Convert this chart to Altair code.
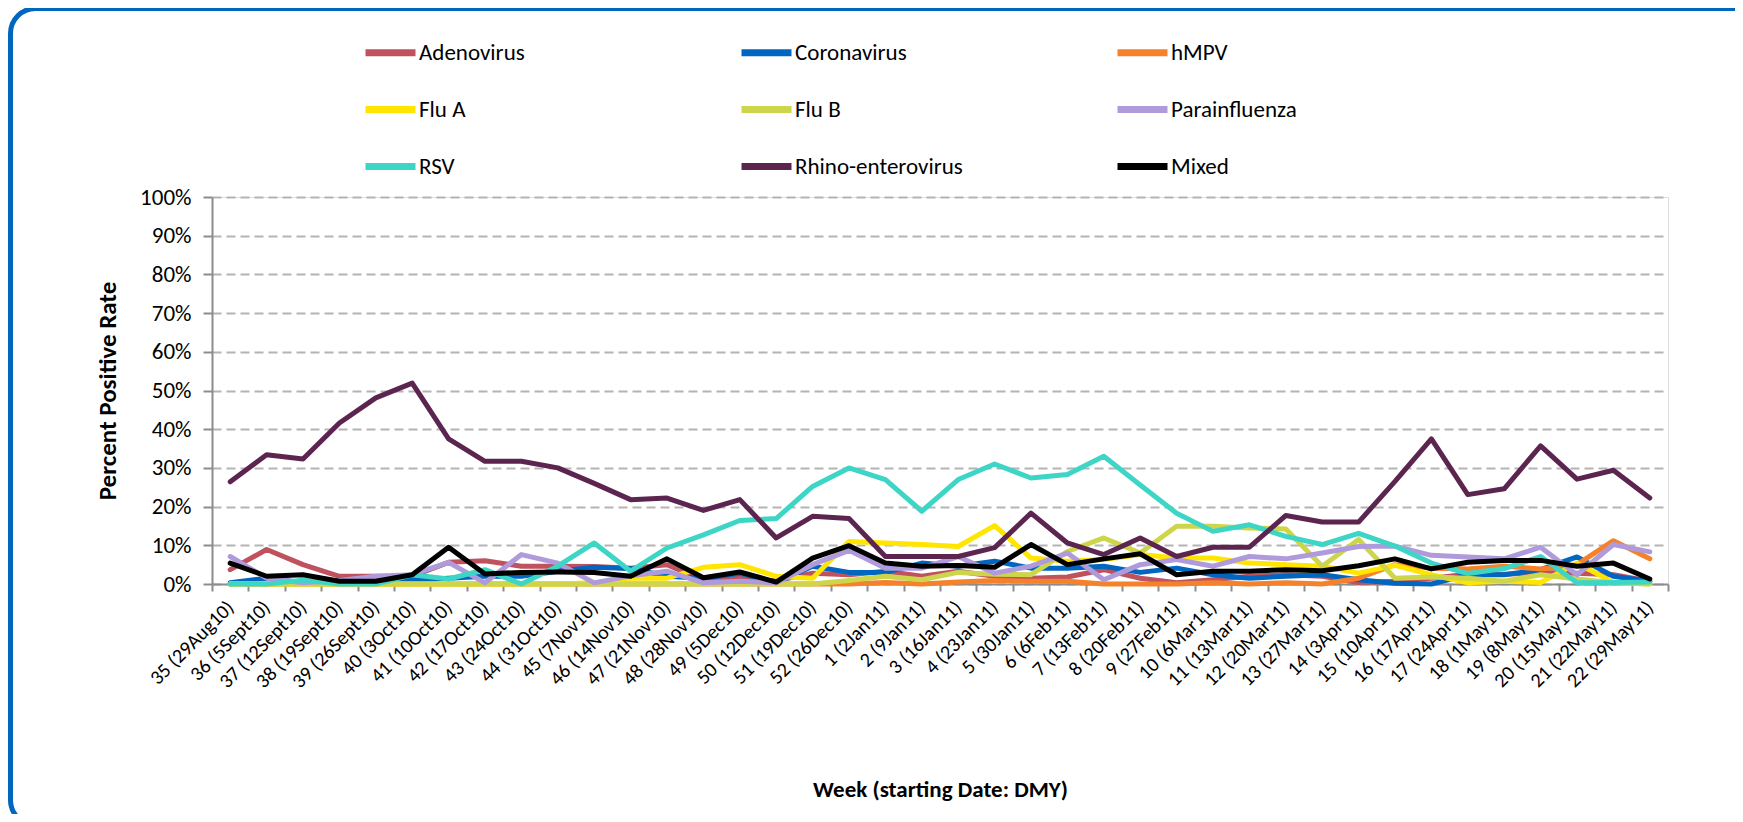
import altair as alt
import pandas as pd

weeks = ["35 (29Aug10)", "36 (5Sept10)", "37 (12Sept10)", "38 (19Sept10)", "39 (26Sept10)",
         "40 (3Oct10)", "41 (10Oct10)", "42 (17Oct10)", "43 (24Oct10)", "44 (31Oct10)",
         "45 (7Nov10)", "46 (14Nov10)", "47 (21Nov10)", "48 (28Nov10)", "49 (5Dec10)",
         "50 (12Dec10)", "51 (19Dec10)", "52 (26Dec10)", "1 (2Jan11)", "2 (9Jan11)",
         "3 (16Jan11)", "4 (23Jan11)", "5 (30Jan11)", "6 (6Feb11)", "7 (13Feb11)",
         "8 (20Feb11)", "9 (27Feb11)", "10 (6Mar11)", "11 (13Mar11)", "12 (20Mar11)",
         "13 (27Mar11)", "14 (3Apr11)", "15 (10Apr11)", "16 (17Apr11)", "17 (24Apr11)",
         "18 (1May11)", "19 (8May11)", "20 (15May11)", "21 (22May11)", "22 (29May11)"]

adenovirus = [3.7, 8.9, 5.0, 2.0, 2.0, 2.0, 5.6, 6.0, 4.6, 4.6, 4.5, 4.1, 5.0, 1.0, 1.5, 0.8, 2.8, 2.4, 3.3, 2.0,
              3.3, 2.0, 1.5, 1.8, 3.7, 1.5, 0.3, 1.1, 2.0, 2.4, 2.0, 0.4, 0.7, 1.5, 2.5, 2.5, 3.0, 2.8, 2.4, 0.7]
coronavirus = [0.3, 1.5, 0.3, 0.3, 0.5, 1.0, 1.5, 2.0, 2.0, 3.3, 4.3, 4.0, 2.0, 1.5, 2.8, 0.3, 4.6, 3.0, 3.0, 5.4,
               4.6, 5.9, 4.1, 4.1, 4.6, 3.0, 4.1, 2.4, 1.5, 2.0, 2.4, 1.1, 0.2, 0.0, 2.4, 2.4, 3.7, 7.0, 2.0, 0.7]
hmpv = [0, 0, 0, 0, 0, 0, 0, 0, 0, 0, 0, 0, 0, 0, 0, 0, 0, 0.0, 0.4, 0.0,
        0.5, 0.9, 0.7, 0.7, 0.0, 0.0, 0.0, 0.3, 0.0, 0.3, 0.0, 1.5, 5.0, 4.1, 3.9, 4.6, 3.9, 5.0, 11.2, 6.5]
flu_a = [0, 0, 0, 0, 0, 0, 0, 0, 0, 0.0, 0.3, 1.5, 1.5, 4.3, 5.0, 2.0, 1.5, 11.0, 10.6, 10.2,
         9.7, 15.1, 6.7, 5.9, 6.3, 7.6, 6.7, 6.7, 5.4, 5.0, 4.6, 2.8, 4.8, 2.4, 0.3, 0.7, 0.4, 5.4, 0.4, 0.0]
flu_b = [0, 0, 0, 0, 0, 0, 0, 0, 0, 0, 0, 0, 0, 0, 0, 0, 0, 0.9, 2.0, 1.1,
         3.0, 2.5, 2.4, 8.4, 11.9, 8.0, 14.9, 14.9, 14.5, 14.2, 4.6, 11.5, 1.5, 1.8, 1.5, 0.7, 2.4, 1.3, 0.3, 0.0]
parainfluenza = [7.1, 1.5, 0.3, 0.9, 2.0, 2.4, 5.6, 0.3, 7.6, 5.4, 0.3, 2.1, 3.3, 0.3, 0.7, 0.3, 5.0, 8.7, 4.1, 4.1,
                 7.1, 2.8, 4.6, 8.0, 1.1, 5.0, 6.3, 4.6, 7.1, 6.5, 8.0, 9.7, 9.8, 7.4, 7.0, 6.5, 9.5, 2.4, 10.2, 8.3]
rsv = [0.0, 0.0, 1.0, 0.0, 0.0, 2.4, 1.3, 3.7, 0.0, 4.6, 10.6, 3.3, 9.3, 12.7, 16.4, 16.9, 25.2, 30.0, 27.0, 18.8,
       27.0, 31.0, 27.4, 28.3, 33.0, 25.6, 18.3, 13.6, 15.3, 12.3, 10.2, 13.1, 9.8, 5.4, 2.7, 4.0, 7.1, 0.3, 0.4, 0.5]
rhino = [26.4, 33.4, 32.3, 41.6, 48.1, 51.9, 37.5, 31.7, 31.7, 30.0, 26.0, 21.8, 22.2, 19.0, 21.8, 11.9, 17.5, 16.9, 7.1, 7.1,
         7.1, 9.4, 18.3, 10.6, 7.6, 11.9, 7.1, 9.5, 9.5, 17.7, 16.0, 16.0, 26.5, 37.5, 23.1, 24.6, 35.7, 27.1, 29.4, 22.2]
mixed = [5.4, 2.0, 2.4, 0.7, 0.7, 2.4, 9.5, 2.6, 3.0, 3.1, 3.0, 2.0, 6.5, 1.6, 3.1, 0.5, 6.7, 9.9, 5.4, 4.6,
         4.8, 4.3, 10.2, 5.0, 6.5, 7.8, 2.4, 3.3, 3.3, 3.7, 3.4, 4.7, 6.5, 3.9, 5.6, 6.1, 6.1, 4.6, 5.4, 1.3]

series_names = ["Adenovirus", "Coronavirus", "hMPV", "Flu A", "Flu B", "Parainfluenza",
                "RSV", "Rhino-enterovirus", "Mixed"]
series_values = [adenovirus, coronavirus, hmpv, flu_a, flu_b, parainfluenza, rsv, rhino, mixed]
series_colors = ["#C0515F", "#0066C0", "#F5822A", "#FFE500", "#CDD64B", "#AF9BDB",
                 "#3DD6C6", "#5C2550", "#000000"]

rows = []
for s_idx, (name, vals) in enumerate(zip(series_names, series_values)):
    for w, v in zip(weeks, vals):
        rows.append({"Week": w, "Rate": v, "Virus": name, "order": s_idx})
df = pd.DataFrame(rows)

FONT = "Carlito, Liberation Sans Narrow, Open Sans, sans-serif"

W, H = 1456, 387

lines = alt.Chart(df).mark_line(strokeWidth=5, strokeCap="round", strokeJoin="round").encode(
    x=alt.X("Week:N", sort=weeks, bandPosition=0.5,
            scale=alt.Scale(type="band", paddingInner=0, paddingOuter=0),
            axis=alt.Axis(title="Week (starting Date: DMY)", labelAngle=-45, labelAlign="right",
                          labelBaseline="middle", labelFontSize=20, labelPadding=13, labelFont=FONT,
                          labelColor="#000000", tickBand="extent", tickSize=7, tickColor="#8C8C8C",
                          tickWidth=2, domainColor="#8C8C8C", domainWidth=2, grid=False,
                          titleFont=FONT, titleFontSize=23, titleFontWeight="bold",
                          titleColor="#000000", titleY=205, titleBaseline="middle",
                          labelOverlap=False)),
    y=alt.Y("Rate:Q", scale=alt.Scale(domain=[0, 100], nice=False),
            axis=alt.Axis(title="Percent Positive Rate", values=list(range(0, 101, 10)),
                          labelExpr="datum.value + '%'", labelFontSize=23, labelFont=FONT,
                          labelColor="#000000", labelPadding=12, tickSize=9, tickColor="#8C8C8C",
                          tickWidth=2, domainColor="#8C8C8C", domainWidth=2,
                          grid=True, gridDash=[9, 5], gridColor="#B4B4B4", gridWidth=2,
                          titleFont=FONT, titleFontSize=25, titleFontWeight="bold",
                          titleColor="#000000", titleX=-105, titleY=H / 2,
                          titleBaseline="middle", titleAngle=-90)),
    color=alt.Color("Virus:N", sort=series_names,
                    scale=alt.Scale(domain=series_names, range=series_colors),
                    legend=alt.Legend(title=None, orient="none", legendX=150, legendY=-173,
                                      direction="horizontal", columns=3, gridAlign="all",
                                      symbolType="stroke", symbolSize=2500, symbolStrokeWidth=7,
                                      labelFontSize=23, labelFont=FONT, labelColor="#000000",
                                      labelOffset=0, columnPadding=140, rowPadding=14,
                                      padding=0, labelLimit=400)),
    order=alt.Order("order:Q"),
    detail="Virus:N",
)

border = alt.Chart(pd.DataFrame({"b": [0]})).mark_rect(
    filled=False, stroke="#0066BF", strokeWidth=5, cornerRadius=25
).encode(
    x=alt.value(-201.5), x2=alt.value(1560), y=alt.value(-188.5), y2=alt.value(628)
)

chart = alt.layer(border, lines).properties(
    width=W, height=H,
    autosize=alt.AutoSizeParams(type="none"),
    padding={"left": 204, "top": 189, "right": 67, "bottom": 230},
).configure_view(stroke=None).configure(background="#FFFFFF")

chart.save("out.html", embed_options={"renderer": "svg", "actions": False})
